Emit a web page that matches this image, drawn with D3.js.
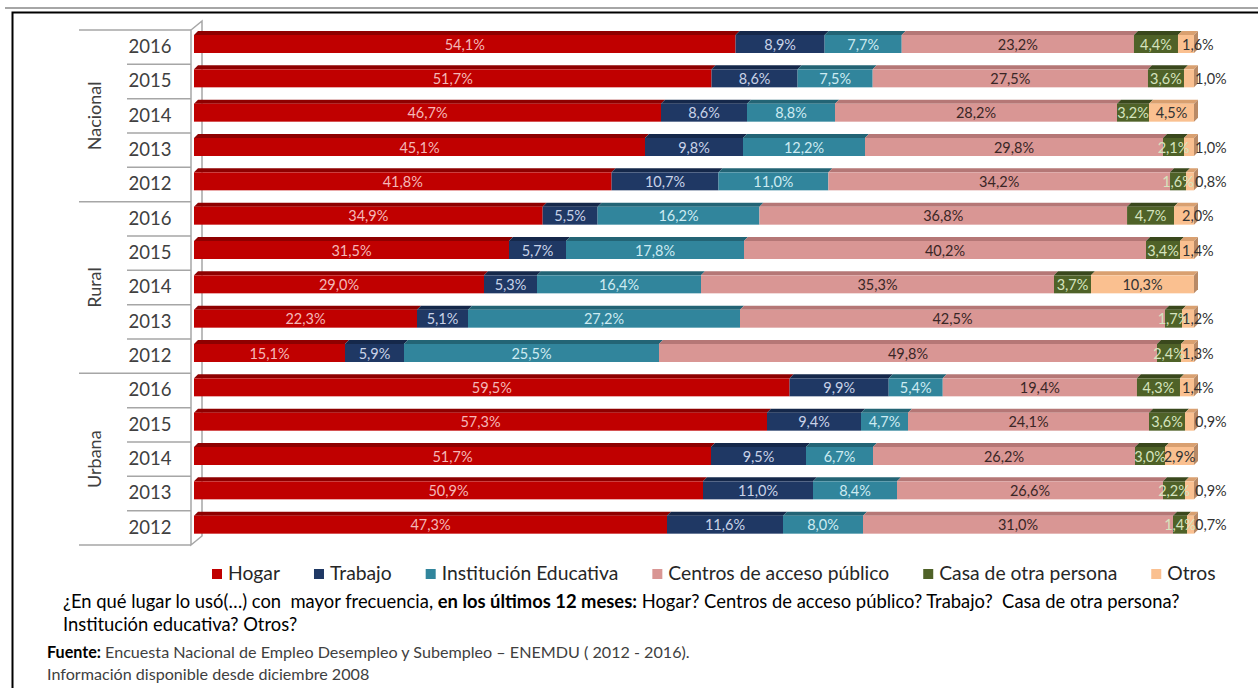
<!DOCTYPE html>
<html>
<head>
<meta charset="utf-8">
<script src="https://cdn.jsdelivr.net/npm/d3@7"></script>
<style>
  body { margin: 0; background: #fff; }
  svg { display: block; font-family: Lato, "Open Sans", sans-serif; }
  text { white-space: pre; }
</style>
</head>
<body>
<script>
// categories
const groups = ['Nacional', 'Rural', 'Urbana'];
const years = ['2016', '2015', '2014', '2013', '2012'];
const series = ['Hogar', 'Trabajo', 'Institución Educativa', 'Centros de acceso público', 'Casa de otra persona', 'Otros'];

// values, row order: Nacional 2016..2012, Rural 2016..2012, Urbana 2016..2012
const hogar       = [54.1, 51.7, 46.7, 45.1, 41.8, 34.9, 31.5, 29.0, 22.3, 15.1, 59.5, 57.3, 51.7, 50.9, 47.3];
const trabajo     = [8.9, 8.6, 8.6, 9.8, 10.7, 5.5, 5.7, 5.3, 5.1, 5.9, 9.9, 9.4, 9.5, 11.0, 11.6];
const institucion = [7.7, 7.5, 8.8, 12.2, 11.0, 16.2, 17.8, 16.4, 27.2, 25.5, 5.4, 4.7, 6.7, 8.4, 8.0];
const centros     = [23.2, 27.5, 28.2, 29.8, 34.2, 36.8, 40.2, 35.3, 42.5, 49.8, 19.4, 24.1, 26.2, 26.6, 31.0];
const casa        = [4.4, 3.6, 3.2, 2.1, 1.6, 4.7, 3.4, 3.7, 1.7, 2.4, 4.3, 3.6, 3.0, 2.2, 1.4];
const otros       = [1.6, 1.0, 4.5, 1.0, 0.8, 2.0, 1.4, 10.3, 1.2, 1.3, 1.4, 0.9, 2.9, 0.9, 0.7];

const question1 = ['¿En qué lugar lo usó(…) con  mayor frecuencia, ', 'en los últimos 12 meses:', ' Hogar? Centros de acceso público? Trabajo?  Casa de otra persona?'];
const question2 = 'Institución educativa? Otros?';
const source1 = ['Fuente:', ' Encuesta Nacional de Empleo Desempleo y Subempleo – ENEMDU ( 2012 - 2016).'];
const source2 = 'Información disponible desde diciembre 2008';

const seriesValues = [hogar, trabajo, institucion, centros, casa, otros];
const fill = ['#C00000', '#1F3864', '#31859C', '#D99694', '#4F6228', '#FAC090'];
const topFill = ['#8E0000', '#15284A', '#236475', '#B57776', '#3A481D', '#D9A070'];
const labelColor = ['#F4B8B8', '#C9D3E8', '#CDEBF2', '#3A2626', '#D6E4BF', '#333333'];

const rows = [];
groups.forEach((g, gi) => years.forEach((y, yi) => {
  const i = gi * years.length + yi;
  const r = { key: g + '-' + y, group: g, year: y };
  series.forEach((s, si) => r[s] = seriesValues[si][i]);
  rows.push(r);
}));

const W = 1258, H = 688;
const svg = d3.select('body').append('svg').attr('width', W).attr('height', H);

// frame
svg.append('line').attr('x1', 5).attr('x2', W).attr('y1', 8).attr('y2', 8)
  .attr('stroke', '#A6A6A6').attr('stroke-width', 2);
svg.append('path').attr('d', `M${W},12.5H12.5V${H}`).attr('fill', 'none')
  .attr('stroke', '#000').attr('stroke-width', 2);

const x = d3.scaleLinear().domain([0, 1]).range([194, 1194]);
const y = d3.scaleBand().domain(rows.map(d => d.key)).range([30, 545]);
const step = y.step();
const depth = 4, barTop = 1, barH = 22;

const locale = d3.formatLocale({ decimal: ',', thousands: '.', grouping: [3], currency: ['$', ''] });
const fmt = v => locale.format('.1f')(v) + '%';

// wall
const gray = '#A6A6A6';
svg.append('path')
  .attr('d', `M191,30L202,21V536L191,545Z`)
  .attr('fill', '#fff').attr('stroke', gray).attr('stroke-width', 1.5);

// category axis lines
const axis = svg.append('g');
rows.forEach((r, i) => {
  const yy = y(r.key);
  axis.append('line')
    .attr('x1', i % years.length === 0 ? 79 : 127).attr('x2', 191)
    .attr('y1', yy).attr('y2', yy).attr('stroke', gray).attr('stroke-width', 1.5);
});
axis.append('line').attr('x1', 79).attr('x2', 191).attr('y1', 545).attr('y2', 545)
  .attr('stroke', gray).attr('stroke-width', 1.5);

axis.selectAll('text.year').data(rows).enter().append('text')
  .attr('class', 'year')
  .attr('x', 150).attr('y', d => y(d.key) + step / 2 + 1)
  .attr('text-anchor', 'middle').attr('dominant-baseline', 'middle')
  .attr('fill', '#404040').style('font-size', '18.5px')
  .text(d => d.year);

groups.forEach((g, gi) => {
  const y0 = y(g + '-' + years[0]);
  const cy = y0 + step * years.length / 2;
  axis.append('text')
    .attr('transform', `translate(101,${cy}) rotate(-90)`)
    .attr('text-anchor', 'middle')
    .attr('fill', '#404040').style('font-size', '18px')
    .text(g);
});

// stacked 100% bars
const stack = d3.stack().keys(series).offset(d3.stackOffsetExpand);
const layers = stack(rows);

const bars = svg.append('g');
layers.forEach((layer, si) => {
  const g = bars.append('g');
  layer.forEach(seg => {
    const x0 = x(seg[0]), x1 = x(seg[1]);
    const yt = y(seg.data.key) + barTop;
    g.append('path')
      .attr('d', `M${x0},${yt + depth}L${x0 + depth},${yt}H${x1 + depth}L${x1},${yt + depth}Z`)
      .attr('fill', topFill[si]);
    g.append('rect')
      .attr('x', x0).attr('y', yt + depth)
      .attr('width', Math.max(0, x1 - x0)).attr('height', barH - depth)
      .attr('fill', fill[si]);
    if (si === series.length - 1) {
      g.append('path')
        .attr('d', `M${x1},${yt + depth}L${x1 + depth},${yt}V${yt + barH - depth}L${x1},${yt + barH}Z`)
        .attr('fill', '#B98A66');
    }
  });
});

// labels
const labels = svg.append('g').style('font-size', '14.5px');
layers.forEach((layer, si) => {
  const last = si === series.length - 1;
  layer.forEach(seg => {
    const v = seg.data[series[si]];
    const x0 = x(seg[0]), x1 = x(seg[1]);
    const yt = y(seg.data.key) + barTop;
    let lx = (x0 + x1) / 2, anchor = 'middle';
    if (last && v <= 1.0) { lx = x1 + 1; anchor = 'start'; }
    else if (last && v < 2.5) { lx = x1 - 12; anchor = 'start'; }
    labels.append('text')
      .attr('x', lx).attr('y', yt + 15)
      .attr('text-anchor', anchor).attr('dominant-baseline', 'middle')
      .attr('fill', labelColor[si])
      .text(fmt(v));
  });
});

// fit a text element to a target width
function fit(sel, width, base) {
  sel.style('font-size', base + 'px');
  const w = sel.node().getComputedTextLength();
  sel.style('font-size', (base * width / w) + 'px');
  return base * width / w;
}

// legend
const legend = svg.append('g');
const probe = legend.append('text').text('Hogar');
const lfs = fit(probe, 52, 19);
probe.remove();
let lx = 212;
const legendGap = 34;
series.forEach((s, si) => {
  legend.append('rect').attr('x', lx).attr('y', 569).attr('width', 10).attr('height', 10).attr('fill', fill[si]);
  const t = legend.append('text').attr('x', lx + 16).attr('y', 575)
    .attr('dominant-baseline', 'middle').attr('fill', '#262626')
    .style('font-size', lfs + 'px').text(s);
  lx += 16 + t.node().getComputedTextLength() + legendGap;
});

// question
const q = svg.append('text').attr('x', 63).attr('y', 608).attr('fill', '#000');
question1.forEach((t, i) => q.append('tspan').attr('font-weight', i === 1 ? 'bold' : null).text(t));
const qfs = fit(q, 1117, 16);
svg.append('text').attr('x', 63).attr('y', 631).attr('fill', '#000')
  .style('font-size', qfs + 'px').text(question2);

// source
const s1 = svg.append('text').attr('x', 47).attr('y', 658).attr('fill', '#404040');
source1.forEach((t, i) => s1.append('tspan')
  .attr('font-weight', i === 0 ? 'bold' : null)
  .attr('fill', i === 0 ? '#000' : null).text(t));
const sfs = fit(s1, 643, 14);
svg.append('text').attr('x', 47).attr('y', 680).attr('fill', '#404040')
  .style('font-size', sfs + 'px').text(source2);
</script>
</body>
</html>
